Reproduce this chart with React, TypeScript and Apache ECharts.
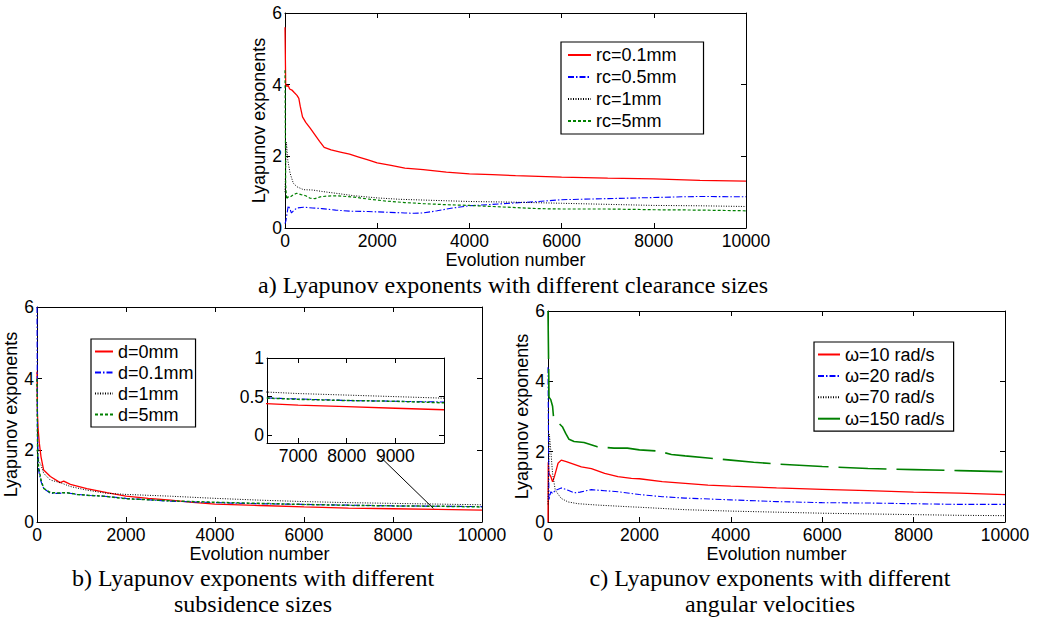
import React, { useEffect, useRef } from "react";
import * as echarts from "echarts";

type P = [number, number];

// ---------- data ----------
const X_TICK_INTERVAL = 2000;
const Y_TICK_INTERVAL = 2;
const INSET_X_TICKS = [7000, 8000, 9000];
const INSET_Y_TICKS = [0, 0.5, 1];

const A_NAMES = ["rc=0.1mm", "rc=0.5mm", "rc=1mm", "rc=5mm"];
const B_NAMES = ["d=0mm", "d=0.1mm", "d=1mm", "d=5mm"];
const C_NAMES = ["ω=10 rad/s", "ω=20 rad/s", "ω=70 rad/s", "ω=150 rad/s"];

const A_RC01: P[] = [[0,5.6],[15,4.0],[40,3.95],[70,3.98],[100,3.88],[150,3.85],[200,3.78],[260,3.7],[300,3.62],[330,3.4],[380,3.1],[450,2.95],[550,2.78],[650,2.6],[750,2.42],[850,2.25],[1000,2.18],[1200,2.12],[1400,2.06],[1600,1.98],[1800,1.9],[2000,1.82],[2300,1.75],[2600,1.67],[3000,1.63],[3500,1.56],[4000,1.51],[4500,1.49],[5000,1.46],[5500,1.44],[6000,1.42],[7000,1.39],[8000,1.37],[8500,1.35],[9000,1.33],[10000,1.31]];
const A_RC05: P[] = [[0,0.12],[20,0.2],[50,0.45],[70,0.62],[100,0.55],[140,0.42],[200,0.5],[260,0.56],[400,0.58],[600,0.56],[800,0.54],[1100,0.5],[1400,0.47],[1800,0.46],[2200,0.44],[2600,0.42],[2800,0.41],[3000,0.42],[3300,0.48],[3600,0.55],[4000,0.62],[4500,0.66],[5000,0.7],[5500,0.74],[6000,0.79],[7000,0.82],[8000,0.85],[8600,0.87],[9000,0.88],[10000,0.87]];
const A_RC1: P[] = [[0,1.0],[30,2.4],[60,1.9],[110,1.53],[180,1.25],[260,1.15],[400,1.07],[600,1.06],[800,1.02],[1100,0.97],[1500,0.9],[2000,0.84],[2500,0.8],[3000,0.78],[3500,0.76],[4000,0.74],[5000,0.72],[6000,0.69],[7000,0.66],[8000,0.63],[9000,0.62],[10000,0.6]];
const A_RC5: P[] = [[0,4.4],[15,1.2],[35,0.8],[60,0.87],[100,0.85],[180,0.93],[255,0.97],[350,0.93],[450,0.9],[545,0.83],[650,0.82],[764,0.87],[900,0.89],[1130,0.9],[1500,0.86],[1855,0.8],[2200,0.75],[2600,0.71],[3000,0.68],[3500,0.65],[4000,0.63],[4500,0.6],[5000,0.57],[5500,0.54],[6000,0.53],[7000,0.53],[8000,0.51],[9000,0.5],[10000,0.48]];

const B_D0: P[] = [[0,4.2],[10,3.0],[25,2.6],[52,2.2],[90,1.82],[150,1.45],[300,1.27],[520,1.1],[600,1.14],[750,1.05],[1120,0.93],[1570,0.82],[2000,0.72],[2500,0.66],[3000,0.61],[3500,0.55],[4000,0.5],[5000,0.46],[6000,0.42],[7000,0.39],[8000,0.37],[9000,0.35],[10000,0.33]];
const B_D01: P[] = [[0,6],[10,2.5],[35,1.45],[90,1.13],[150,0.94],[300,0.8],[500,0.8],[650,0.82],[900,0.77],[1200,0.74],[1500,0.72],[2000,0.66],[2500,0.62],[3000,0.58],[4000,0.54],[5000,0.51],[6000,0.49],[7000,0.47],[8000,0.45],[9000,0.44],[10000,0.43]];
const B_D1: P[] = [[0,2.0],[30,1.73],[90,1.59],[150,1.36],[300,1.17],[520,1.1],[750,0.99],[1120,0.89],[1570,0.8],[2000,0.77],[3000,0.72],[4000,0.66],[5000,0.61],[6000,0.57],[7000,0.54],[8000,0.52],[9000,0.5],[10000,0.48]];
const B_D5: P[] = [[0,4.0],[15,1.9],[35,1.54],[90,1.17],[150,0.94],[300,0.82],[500,0.81],[650,0.82],[900,0.77],[1200,0.74],[1500,0.72],[2000,0.65],[2500,0.62],[3000,0.59],[4000,0.55],[5000,0.52],[6000,0.49],[7000,0.465],[8000,0.45],[9000,0.44],[10000,0.42]];

const C_W10: P[] = [[0,0],[5,1.7],[20,1.38],[60,1.3],[100,1.14],[140,1.29],[220,1.67],[290,1.76],[400,1.72],[510,1.67],[730,1.57],[950,1.52],[1240,1.38],[1530,1.29],[1825,1.24],[2000,1.23],[2500,1.15],[3000,1.1],[3500,1.05],[4000,1.02],[5000,0.97],[6000,0.93],[7000,0.89],[8000,0.85],[9000,0.82],[10000,0.78]];
const C_W20: P[] = [[0,4.4],[20,0.62],[60,0.86],[100,0.81],[160,0.9],[290,0.97],[440,0.9],[580,0.83],[700,0.85],[950,0.92],[1240,0.89],[1530,0.86],[1825,0.81],[2000,0.78],[2500,0.72],[3000,0.68],[4000,0.63],[5000,0.58],[6000,0.55],[7000,0.54],[8000,0.52],[9000,0.5],[10000,0.5]];
const C_W70: P[] = [[0,0.5],[30,2.5],[60,2.05],[100,1.38],[160,0.9],[290,0.67],[440,0.57],[660,0.52],[1100,0.48],[1825,0.43],[2000,0.42],[3000,0.35],[4000,0.31],[5000,0.28],[6000,0.25],[7000,0.23],[8000,0.21],[9000,0.19],[10000,0.18]];
const C_W150: P[] = [[0,6.0],[22,3.55],[60,3.48],[100,3.29],[120,3.0],[220,2.83],[314,2.71],[387,2.52],[460,2.35],[570,2.29],[788,2.26],[1080,2.14],[1445,2.1],[1737,2.1],[2000,2.05],[2400,2.02],[2700,1.92],[3000,1.88],[3500,1.82],[4000,1.76],[4500,1.7],[5000,1.65],[6000,1.58],[7000,1.52],[8000,1.49],[9000,1.46],[10000,1.43]];

const ARROW_B: P[] = [[7670, 1.87], [8906, 0.38]];

const CAPTION_A = "a) Lyapunov exponents with different clearance sizes";
const CAPTION_B = ["b) Lyapunov exponents with different", "subsidence sizes"];
const CAPTION_C = ["c) Lyapunov exponents with different", "angular velocities"];

// ---------- styles ----------
const SANS = "'Liberation Sans', Arial, sans-serif";
const SERIF = "'Liberation Serif', 'Times New Roman', serif";
const RED = "#ff0000";
const BLUE = "#0000ff";
const BLACK = "#000000";
const GREEN = "#008000";

const STYLE_SOLID = { color: RED, width: 1.3, type: "solid" as any };
const STYLE_DASHDOT = { color: BLUE, width: 1.1, type: [6, 2, 1.5, 2] as any };
const STYLE_DOT = { color: BLACK, width: 1, type: [1, 1.5] as any };
const STYLE_DASH = { color: GREEN, width: 1.2, type: [3, 2] as any };

const plainNum = (v: number) => String(v);

function axisPair(gridIndex: number, opts: any) {
  const common = {
    type: "value",
    gridIndex,
    min: opts.min,
    max: opts.max,
    splitLine: { show: false },
    axisLine: { show: true, onZero: false, lineStyle: { color: "#000", width: 1 } },
    axisTick: { show: true, inside: true, length: 5, lineStyle: { color: "#000", width: 1 }, ...(opts.custom ? { customValues: opts.custom } : {}) },
    ...(opts.interval ? { interval: opts.interval } : {}),
  };
  const main: any = {
    ...common,
    position: opts.mainPos,
    axisLabel: {
      show: true,
      color: "#000",
      fontSize: 17.5,
      fontFamily: SANS,
      margin: opts.labelMargin,
      formatter: plainNum,
      ...(opts.custom ? { customValues: opts.custom } : {}),
    },
  };
  if (opts.name) {
    main.name = opts.name;
    main.nameLocation = "middle";
    main.nameGap = opts.nameGap;
    main.nameTextStyle = { color: "#000", fontSize: 18, fontFamily: SANS };
  }
  const other: any = { ...common, position: opts.otherPos, axisLabel: { show: false } };
  return [main, other];
}

function mainAxes(gridIndex: number, xNameGap: number, yNameGap: number) {
  const xs = axisPair(gridIndex, { min: 0, max: 10000, interval: X_TICK_INTERVAL, mainPos: "bottom", otherPos: "top", labelMargin: 4, name: "Evolution number", nameGap: xNameGap });
  const ys = axisPair(gridIndex, { min: 0, max: 6, interval: Y_TICK_INTERVAL, mainPos: "left", otherPos: "right", labelMargin: 3, name: "Lyapunov exponents", nameGap: yNameGap });
  return { xs, ys };
}

function line(name: string, data: P[], xi: number, yi: number, lineStyle: any, extra: any = {}) {
  return {
    type: "line",
    name,
    data,
    xAxisIndex: xi,
    yAxisIndex: yi,
    symbol: "none",
    showSymbol: false,
    smooth: false,
    lineStyle,
    itemStyle: { color: lineStyle.color },
    color: lineStyle.color,
    silent: true,
    clip: true,
    z: 3,
    ...extra,
  };
}

function legend(data: string[], left: number, top: number, padding: number[], itemGap: number, itemWidth: number) {
  return {
    data,
    orient: "vertical",
    left,
    top,
    padding,
    itemGap,
    itemWidth,
    itemHeight: 14,
    selectedMode: false,
    borderColor: "#000",
    borderWidth: 1.2,
    borderRadius: 0,
    backgroundColor: "#fff",
    itemStyle: { opacity: 0 },
    textStyle: { color: "#000", fontSize: 18, fontFamily: SANS, lineHeight: 20 },
  };
}

export default function App() {
  const ref = useRef<HTMLDivElement>(null);
  useEffect(() => {
    if (!ref.current) return;
    const chart = echarts.init(ref.current, null, { renderer: "svg" });

    const a = mainAxes(0, 20, 17);
    const b = mainAxes(1, 15, 16);
    const c = mainAxes(2, 17, 16);
    const insX = axisPair(3, { min: 6360, max: 10000, custom: INSET_X_TICKS, mainPos: "bottom", otherPos: "top", labelMargin: 4 });
    const insY = axisPair(3, { min: -0.1, max: 1, custom: INSET_Y_TICKS, mainPos: "left", otherPos: "right", labelMargin: 3 });

    // xAxis indices: a 0/1, b 2/3, c 4/5, inset 6/7 (same for yAxis)
    const xAxis = [...a.xs, ...b.xs, ...c.xs, ...insX];
    const yAxis = [...a.ys, ...b.ys, ...c.ys, ...insY];

    const series: any[] = [
      line(A_NAMES[0], A_RC01, 0, 0, STYLE_SOLID),
      line(A_NAMES[1], A_RC05, 0, 0, STYLE_DASHDOT),
      line(A_NAMES[2], A_RC1, 0, 0, STYLE_DOT),
      line(A_NAMES[3], A_RC5, 0, 0, STYLE_DASH),

      line(B_NAMES[0], B_D0, 2, 2, STYLE_SOLID, {
        markLine: {
          silent: true,
          symbol: ["none", "arrow"],
          symbolSize: [0, 9],
          label: { show: false },
          lineStyle: { color: "#000", width: 1, type: "solid" },
          data: [[{ coord: ARROW_B[0] }, { coord: ARROW_B[1] }]],
        },
      }),
      line(B_NAMES[1], B_D01, 2, 2, STYLE_DASHDOT),
      line(B_NAMES[2], B_D1, 2, 2, STYLE_DOT),
      line(B_NAMES[3], B_D5, 2, 2, { ...STYLE_DASH, width: 1.5 }),

      line(C_NAMES[0], C_W10, 4, 4, STYLE_SOLID),
      line(C_NAMES[1], C_W20, 4, 4, STYLE_DASHDOT),
      line(C_NAMES[2], C_W70, 4, 4, STYLE_DOT),
      line(C_NAMES[3], C_W150, 4, 4, { color: GREEN, width: 1.6, type: [48, 10] }),

      line(B_NAMES[0], B_D0, 6, 6, STYLE_SOLID),
      line(B_NAMES[1], B_D01, 6, 6, STYLE_DASHDOT),
      line(B_NAMES[2], B_D1, 6, 6, STYLE_DOT),
      line(B_NAMES[3], B_D5, 6, 6, { ...STYLE_DASH, width: 1.5 }),
    ];

    const captionStyle = { fill: "#000", fontSize: 24, fontFamily: SERIF, align: "center", verticalAlign: "middle" };

    chart.setOption({
      animation: false,
      backgroundColor: "#ffffff",
      grid: [
        { left: 285, top: 13, width: 461, height: 215 },
        { left: 37, top: 307, width: 445, height: 215 },
        { left: 548, top: 311, width: 457, height: 211 },
        { left: 267, top: 358, width: 177, height: 85 },
      ],
      xAxis,
      yAxis,
      legend: [
        legend(A_NAMES, 561, 42, [3, 27, 3, 6], 2, 23),
        legend(B_NAMES, 91, 339, [2.5, 2, 2.5, 3], 1, 18),
        legend(C_NAMES, 814, 342, [2.5, 9, 2.5, 3], 1.4, 22),
      ],
      series,
      graphic: [
        { type: "text", x: 513, y: 285, style: { ...captionStyle, text: CAPTION_A } },
        { type: "text", x: 253, y: 578, style: { ...captionStyle, text: CAPTION_B[0] } },
        { type: "text", x: 253, y: 604, style: { ...captionStyle, text: CAPTION_B[1] } },
        { type: "text", x: 770, y: 578, style: { ...captionStyle, text: CAPTION_C[0] } },
        { type: "text", x: 770, y: 604, style: { ...captionStyle, text: CAPTION_C[1] } },
      ],
    });

    return () => chart.dispose();
  }, []);

  return (
    <div
      ref={ref}
      style={{ position: "absolute", left: 0, top: 0, width: 1041, height: 618, background: "#fff" }}
    />
  );
}
